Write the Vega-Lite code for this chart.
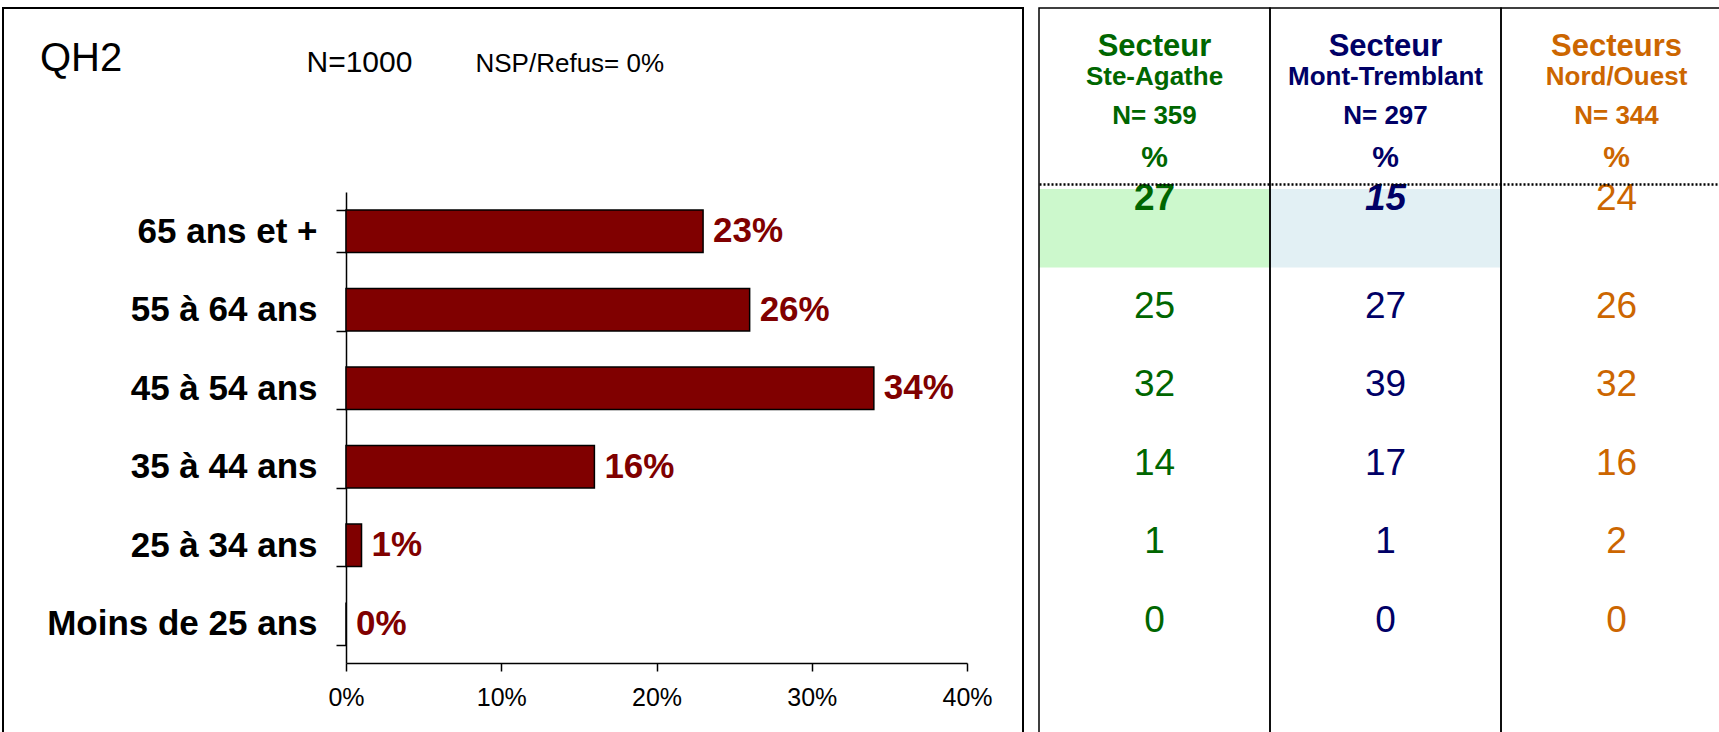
{
  "$schema": "https://vega.github.io/schema/vega-lite/v6.json",
  "width": 1719,
  "height": 732,
  "autosize": {"type": "none"},
  "padding": 0,
  "background": "white",
  "config": {"view": {"stroke": null}, "font": "Liberation Sans"},
  "title": {
    "text": "QH2",
    "anchor": "start",
    "frame": "group",
    "orient": "top",
    "offset": 0,
    "dx": 40,
    "dy": 96,
    "fontSize": 40,
    "fontWeight": "normal",
    "color": "black"
  },
  "datasets": {
    "cadre": [{"cadre": "QH2"}],
    "ages": [
      {"age": "65 ans et +", "pct": 0.23},
      {"age": "55 à 64 ans", "pct": 0.26},
      {"age": "45 à 54 ans", "pct": 0.34},
      {"age": "35 à 44 ans", "pct": 0.16},
      {"age": "25 à 34 ans", "pct": 0.01},
      {"age": "Moins de 25 ans", "pct": 0.0}
    ],
    "tableau": [
      {"age": "65 ans et +", "secteur": "Ste-Agathe", "valeur": 27},
      {"age": "55 à 64 ans", "secteur": "Ste-Agathe", "valeur": 25},
      {"age": "45 à 54 ans", "secteur": "Ste-Agathe", "valeur": 32},
      {"age": "35 à 44 ans", "secteur": "Ste-Agathe", "valeur": 14},
      {"age": "25 à 34 ans", "secteur": "Ste-Agathe", "valeur": 1},
      {"age": "Moins de 25 ans", "secteur": "Ste-Agathe", "valeur": 0},
      {"age": "65 ans et +", "secteur": "Mont-Tremblant", "valeur": 15},
      {"age": "55 à 64 ans", "secteur": "Mont-Tremblant", "valeur": 27},
      {"age": "45 à 54 ans", "secteur": "Mont-Tremblant", "valeur": 39},
      {"age": "35 à 44 ans", "secteur": "Mont-Tremblant", "valeur": 17},
      {"age": "25 à 34 ans", "secteur": "Mont-Tremblant", "valeur": 1},
      {"age": "Moins de 25 ans", "secteur": "Mont-Tremblant", "valeur": 0},
      {"age": "65 ans et +", "secteur": "Nord/Ouest", "valeur": 24},
      {"age": "55 à 64 ans", "secteur": "Nord/Ouest", "valeur": 26},
      {"age": "45 à 54 ans", "secteur": "Nord/Ouest", "valeur": 32},
      {"age": "35 à 44 ans", "secteur": "Nord/Ouest", "valeur": 16},
      {"age": "25 à 34 ans", "secteur": "Nord/Ouest", "valeur": 2},
      {"age": "Moins de 25 ans", "secteur": "Nord/Ouest", "valeur": 0}
    ],
    "entetes": [
      {"secteur": "Ste-Agathe", "ligne": "titre", "texte": "Secteur"},
      {"secteur": "Ste-Agathe", "ligne": "nom", "texte": "Ste-Agathe"},
      {"secteur": "Ste-Agathe", "ligne": "n", "texte": "N= 359"},
      {"secteur": "Ste-Agathe", "ligne": "unite", "texte": "%"},
      {"secteur": "Mont-Tremblant", "ligne": "titre", "texte": "Secteur"},
      {"secteur": "Mont-Tremblant", "ligne": "nom", "texte": "Mont-Tremblant"},
      {"secteur": "Mont-Tremblant", "ligne": "n", "texte": "N= 297"},
      {"secteur": "Mont-Tremblant", "ligne": "unite", "texte": "%"},
      {"secteur": "Nord/Ouest", "ligne": "titre", "texte": "Secteurs"},
      {"secteur": "Nord/Ouest", "ligne": "nom", "texte": "Nord/Ouest"},
      {"secteur": "Nord/Ouest", "ligne": "n", "texte": "N= 344"},
      {"secteur": "Nord/Ouest", "ligne": "unite", "texte": "%"}
    ]
  },
  "layer": [
    {
      "data": {"name": "cadre"},
      "mark": {"type": "rect", "fill": "transparent", "stroke": "black", "strokeWidth": 2},
      "encoding": {
        "x": {"field": "cadre", "type": "nominal",
              "axis": {"orient": "top", "offset": 0, "domain": false, "ticks": false, "labels": false, "grid": false,
                       "title": "N=1000", "titleX": 306, "titleY": 71, "titleAngle": 0, "titleAlign": "left", "titleBaseline": "alphabetic",
                       "titleFontSize": 30, "titleFontWeight": "normal", "titleColor": "black"},
              "scale": {"range": [3, 1023], "paddingInner": 0, "paddingOuter": 0}},
        "y": {"field": "cadre", "type": "nominal",
              "axis": {"orient": "left", "offset": 0, "domain": false, "ticks": false, "labels": false, "grid": false,
                       "title": "NSP/Refus= 0%", "titleX": 475, "titleY": 71, "titleAngle": 0, "titleAlign": "left", "titleBaseline": "alphabetic",
                       "titleFontSize": 26, "titleFontWeight": "normal", "titleColor": "black"},
              "scale": {"range": [8, 1000], "paddingInner": 0, "paddingOuter": 0}}
      }
    },
    {
      "data": {"name": "tableau"},
      "encoding": {
        "x": {"field": "secteur", "type": "nominal", "sort": ["Ste-Agathe", "Mont-Tremblant", "Nord/Ouest"],
              "scale": {"range": [1039, 1732], "paddingInner": 0, "paddingOuter": 0},
              "axis": {"orient": "top", "offset": -184, "labels": false, "ticks": false, "grid": false, "title": null, "domainColor": "black", "domainWidth": 2.5, "domainDash": [2, 2]}},
        "y": {"field": "age", "type": "nominal", "sort": ["65 ans et +", "55 à 64 ans", "45 à 54 ans", "35 à 44 ans", "25 à 34 ans", "Moins de 25 ans"],
              "scale": {"range": [189, 660], "paddingInner": 0, "paddingOuter": 0}, "axis": null},
        "color": {"field": "secteur", "type": "nominal", "scale": {"domain": ["Ste-Agathe", "Mont-Tremblant", "Nord/Ouest"], "range": ["#006600", "#000066", "#cc6600"]}, "legend": null}
      },
      "layer": [
        {"transform": [{"filter": "datum.age === '65 ans et +' && datum.secteur === 'Ste-Agathe'"}],
         "mark": {"type": "rect", "fill": "#ccf8cc"}, "encoding": {"color": {"value": "#ccf8cc"}}},
        {"transform": [{"filter": "datum.age === '65 ans et +' && datum.secteur === 'Mont-Tremblant'"}],
         "mark": {"type": "rect", "fill": "#e2f0f4"}, "encoding": {"color": {"value": "#e2f0f4"}}},
        {"transform": [{"filter": "datum.age !== '65 ans et +'"}],
         "mark": {"type": "text", "fontSize": 37, "baseline": "middle"},
         "encoding": {"text": {"field": "valeur", "type": "quantitative"}}},
        {"transform": [{"filter": "datum.age === '65 ans et +' && datum.secteur === 'Ste-Agathe'"}],
         "mark": {"type": "text", "fontSize": 37, "fontWeight": "bold", "baseline": "middle", "dy": -29},
         "encoding": {"text": {"field": "valeur", "type": "quantitative"}}},
        {"transform": [{"filter": "datum.age === '65 ans et +' && datum.secteur === 'Mont-Tremblant'"}],
         "mark": {"type": "text", "fontSize": 37, "fontWeight": "bold", "fontStyle": "italic", "baseline": "middle", "dy": -29},
         "encoding": {"text": {"field": "valeur", "type": "quantitative"}}},
        {"transform": [{"filter": "datum.age === '65 ans et +' && datum.secteur === 'Nord/Ouest'"}],
         "mark": {"type": "text", "fontSize": 37, "baseline": "middle", "dy": -29},
         "encoding": {"text": {"field": "valeur", "type": "quantitative"}}}
      ]
    },
    {
      "data": {"name": "entetes"},
      "transform": [{"filter": "datum.ligne === 'titre'"}],
      "mark": {"type": "rect", "fill": "transparent", "stroke": "black", "strokeWidth": 1.5},
      "encoding": {
        "x": {"field": "secteur", "type": "nominal", "sort": ["Ste-Agathe", "Mont-Tremblant", "Nord/Ouest"], "axis": null, "scale": {"range": [1039, 1732], "paddingInner": 0, "paddingOuter": 0}},
        "y": {"field": "ligne", "type": "nominal", "axis": null, "scale": {"range": [8, 1000], "paddingInner": 0, "paddingOuter": 0}}
      }
    },
    {
      "data": {"name": "entetes"},
      "encoding": {
        "x": {"field": "secteur", "type": "nominal", "sort": ["Ste-Agathe", "Mont-Tremblant", "Nord/Ouest"], "axis": null, "scale": {"range": [1039, 1732], "paddingInner": 0, "paddingOuter": 0}},
        "y": {"field": "ligne", "type": "nominal", "sort": ["titre", "nom", "n", "unite"], "axis": null, "scale": {"type": "point", "range": [47, 158], "padding": 0}},
        "text": {"field": "texte", "type": "nominal"},
        "color": {"field": "secteur", "type": "nominal", "scale": {"domain": ["Ste-Agathe", "Mont-Tremblant", "Nord/Ouest"], "range": ["#006600", "#000066", "#cc6600"]}, "legend": null}
      },
      "layer": [
        {"transform": [{"filter": "datum.ligne === 'titre'"}], "mark": {"type": "text", "fontSize": 31, "fontWeight": "bold", "baseline": "middle"}},
        {"transform": [{"filter": "datum.ligne === 'nom'"}], "mark": {"type": "text", "fontSize": 26, "fontWeight": "bold", "baseline": "middle", "dy": -7}},
        {"transform": [{"filter": "datum.ligne === 'n'"}], "mark": {"type": "text", "fontSize": 26, "fontWeight": "bold", "baseline": "middle", "dy": -5}},
        {"transform": [{"filter": "datum.ligne === 'unite'"}], "mark": {"type": "text", "fontSize": 30, "fontWeight": "bold", "baseline": "middle"}}
      ]
    },
    {
      "data": {"name": "ages"},
      "encoding": {
        "y": {"field": "age", "type": "nominal", "sort": ["65 ans et +", "55 à 64 ans", "45 à 54 ans", "35 à 44 ans", "25 à 34 ans", "Moins de 25 ans"],
              "scale": {"range": [192, 663], "paddingInner": 0.46, "paddingOuter": 0.23},
              "axis": {"orient": "left", "offset": -346, "title": null, "tickBand": "extent", "domainColor": "black", "domainWidth": 1.5, "tickColor": "black", "tickWidth": 1.5, "tickSize": 10, "labelFontSize": 35, "labelFontWeight": "bold", "labelColor": "black", "labelPadding": 19, "labelLimit": 0}},
        "x": {"field": "pct", "type": "quantitative",
              "scale": {"domain": [0, 0.4], "range": [346, 967], "nice": false},
              "axis": {"orient": "bottom", "offset": -69, "title": null, "values": [0, 0.1, 0.2, 0.3, 0.4], "format": ".0%", "grid": false, "domainColor": "black", "domainWidth": 1.5, "tickColor": "black", "tickWidth": 1.5, "tickSize": 8, "labelFontSize": 25, "labelColor": "black", "labelPadding": 14, "labelFlush": false}}
      },
      "layer": [
        {"mark": {"type": "bar", "fill": "#800000", "stroke": "black", "strokeWidth": 1.5}},
        {"mark": {"type": "text", "align": "left", "baseline": "middle", "dx": 10, "fontSize": 35, "fontWeight": "bold", "color": "#800000"},
         "encoding": {"text": {"field": "pct", "type": "quantitative", "format": ".0%"}}}
      ]
    }
  ],
  "resolve": {
    "scale": {"x": "independent", "y": "independent"},
    "axis": {"x": "independent", "y": "independent"}
  }
}
